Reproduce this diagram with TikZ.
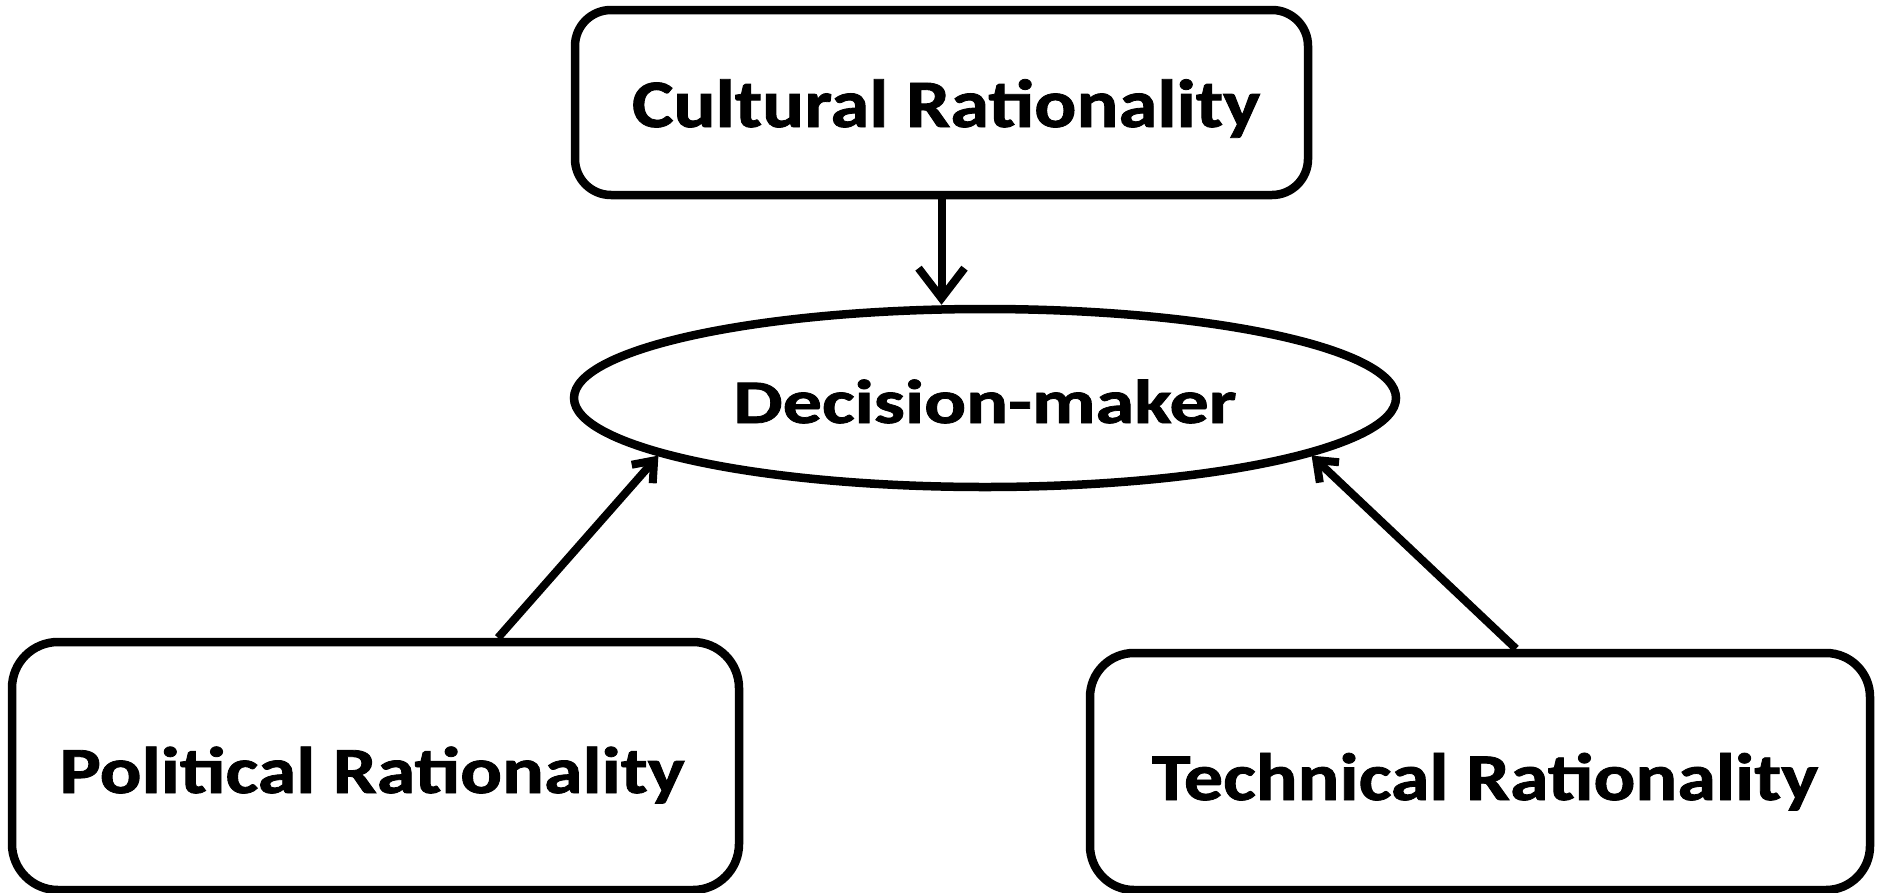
\documentclass[tikz,border=0pt]{standalone}
\usepackage{fontspec}
\usepackage{graphicx}
\setmainfont{Carlito}[BoldFeatures={FakeBold=1.2}]
\usetikzlibrary{arrows.meta,shapes.geometric}
\begin{document}
\begin{tikzpicture}[x=1pt,y=-1pt,
  shapeline/.style={draw=black, line width=8.5pt, fill=white, inner sep=0pt},
  rbox/.style={shapeline, rectangle, rounded corners=#1},
  oval/.style={shapeline, ellipse},
  lbl/.style={inner sep=0pt, anchor=base},
  conn/.style={line width=8pt, draw=black},
  bigtip/.style={-{Straight Barb[length=30pt,width=46pt,line width=8pt]}},
  smalltip/.style={-{Straight Barb[length=18pt,width=28pt,line width=8pt]}}
]
\useasboundingbox (0,0) rectangle (1878,892);
\fill[white] (0,0) rectangle (1878,892);

% shapes
\node[rbox=36pt, minimum width=733pt, minimum height=185pt] (cult) at (941.5,102.5) {};
\node[oval, minimum width=822pt, minimum height=178pt] (dm) at (985,398) {};
\node[rbox=46pt, minimum width=727pt, minimum height=248pt] (pol) at (375.5,766) {};
\node[rbox=44pt, minimum width=780pt, minimum height=237pt] (tech) at (1480,771.5) {};

% labels
\node[lbl] (cultT) at (946,127) {\resizebox{628pt}{\height}{\fontsize{68}{72}\selectfont\bfseries Cultural Rationality}};
\node[lbl] (dmT) at (985,423) {\resizebox{503pt}{\height}{\fontsize{62}{66}\selectfont\bfseries Decision-maker}};
\node[lbl] (polT) at (372,793) {\resizebox{625pt}{\height}{\fontsize{66}{70}\selectfont\bfseries Political Rationality}};
\node[lbl] (techT) at (1485,800) {\resizebox{666pt}{\height}{\fontsize{67}{71}\selectfont\bfseries Technical Rationality}};

% connectors
\draw[conn, bigtip] (cult.south) -- (cult.south |- dm.north);
\draw[conn, smalltip] ([xshift=122.5pt]pol.north) -- (dm.190);
\draw[conn, smalltip] ([xshift=36pt]tech.north) -- (dm.-10);
\end{tikzpicture}
\end{document}
